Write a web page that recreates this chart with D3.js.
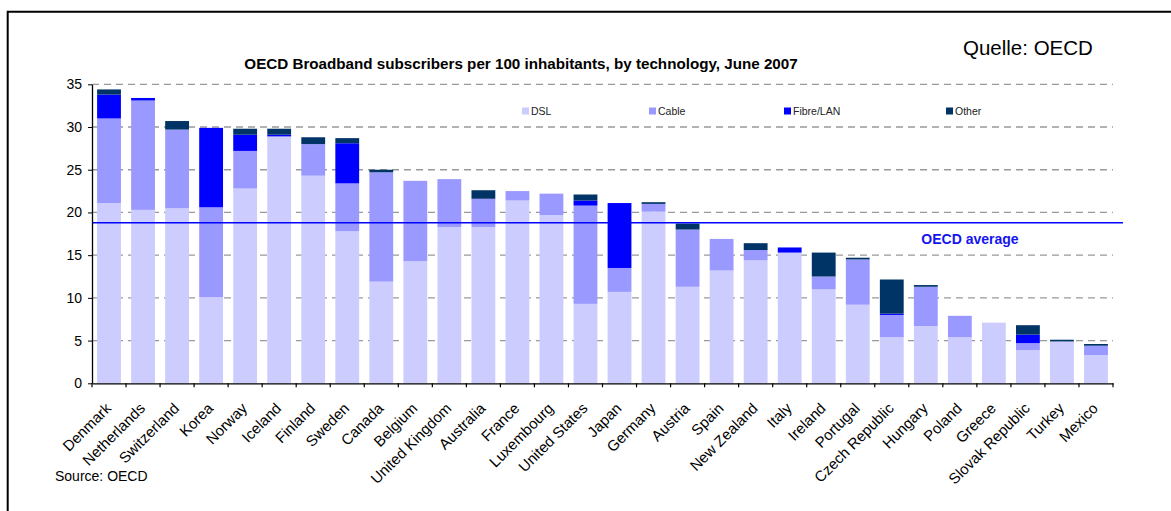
<!DOCTYPE html>
<html><head><meta charset="utf-8">
<script src="https://cdn.jsdelivr.net/npm/d3@7"></script>
<style>
html,body{margin:0;padding:0;background:#fff;}
svg{display:block;font-family:"Liberation Sans",Arial,sans-serif;}
</style></head>
<body>
<svg id="chart" width="1171" height="511"></svg>
<script>
const countries = ["Denmark","Netherlands","Switzerland","Korea","Norway","Iceland","Finland","Sweden","Canada","Belgium","United Kingdom","Australia","France","Luxembourg","United States","Japan","Germany","Austria","Spain","New Zealand","Italy","Ireland","Portugal","Czech Republic","Hungary","Poland","Greece","Slovak Republic","Turkey","Mexico"];
const dsl   = [21.1,20.3,20.5,10.1,22.8,28.9,24.3,17.8,11.9,14.3,18.3,18.3,21.4,19.7,9.3,10.7,20.1,11.3,13.2,14.4,15.3,11.0,9.2,5.4,6.7,5.4,7.1,3.9,4.9,3.3];
const cable = [9.9,12.8,9.2,10.5,4.4,0.0,3.7,5.6,12.8,9.4,5.6,3.3,1.1,2.5,11.5,2.8,0.9,6.7,3.7,1.2,0.0,1.5,5.3,2.6,4.6,2.5,0.0,0.8,0.0,1.1];
const fibre = [2.8,0.3,0.0,9.3,1.9,0.2,0.0,4.7,0.0,0.0,0.0,0.0,0.0,0.0,0.6,7.6,0.0,0.0,0.0,0.0,0.6,0.0,0.0,0.15,0.0,0.0,0.0,1.0,0.0,0.0];
const other = [0.6,0.0,1.0,0.0,0.7,0.7,0.8,0.6,0.3,0.0,0.0,1.0,0.0,0.0,0.7,0.0,0.2,0.7,0.0,0.8,0.0,2.8,0.2,4.0,0.2,0.0,0.0,1.1,0.2,0.2];
const seriesNames = ["DSL","Cable","Fibre/LAN","Other"];
const seriesColors = ["#CCCCFF","#9999FF","#0000FF","#003366"];
const yTicks = [0,5,10,15,20,25,30,35];
const oecdAverage = 18.8;
const titleText = "OECD Broadband subscribers per 100 inhabitants, by technology, June 2007";
const sourceText = "Source: OECD";
const quelleText = "Quelle: OECD";
const avgLabel = "OECD average";

const svg = d3.select("#chart");

// frame
svg.append("path").attr("d","M7.7,520 V11.7 H1180").attr("fill","none").attr("stroke","#000").attr("stroke-width",2);

const x = d3.scaleBand().domain(countries).range([92,1113]).paddingInner(0.3).paddingOuter(0.15);
const y = d3.scaleLinear().domain([0,35]).range([383.3,84.3]);

// gridlines
svg.append("g").selectAll("line").data(yTicks.filter(d=>d>0)).join("line")
  .attr("x1",92).attr("x2",1113).attr("y1",d=>y(d)).attr("y2",d=>y(d))
  .attr("stroke","#999").attr("stroke-width",1.3).attr("stroke-dasharray","7,5");

// stacked bars
const table = countries.map((c,i)=>({country:c,"DSL":dsl[i],"Cable":cable[i],"Fibre/LAN":fibre[i],"Other":other[i]}));
const stack = d3.stack().keys(seriesNames)(table);
svg.append("g").selectAll("g").data(stack).join("g")
  .attr("fill",(d,i)=>seriesColors[i])
  .selectAll("rect").data(d=>d).join("rect")
  .attr("x",d=>x(d.data.country)).attr("width",x.bandwidth())
  .attr("y",d=>y(d[1])).attr("height",d=>Math.max(0,y(d[0])-y(d[1])));

// average line
svg.append("line").attr("x1",92).attr("x2",1123).attr("y1",y(oecdAverage)).attr("y2",y(oecdAverage))
  .attr("stroke","#0000FF").attr("stroke-width",1.5);
svg.append("text").attr("x",970).attr("y",244).attr("text-anchor","middle")
  .attr("font-size",14).attr("font-weight","bold").attr("fill","#1414F0").text(avgLabel);

// y axis
const yAxis = svg.append("g").attr("transform","translate(92,0)")
  .call(d3.axisLeft(y).tickValues(yTicks).tickSize(4).tickPadding(6).tickSizeOuter(0));
yAxis.select(".domain").attr("stroke","#000").attr("stroke-width",1.3);
yAxis.selectAll(".tick line").attr("stroke","#000");
yAxis.selectAll("text").attr("font-size",14).attr("fill","#000").attr("font-family","Liberation Sans, Arial, sans-serif");

// x axis
const xAxis = svg.append("g").attr("transform",`translate(0,${y(0)})`)
  .call(d3.axisBottom(x).tickSize(0).tickSizeOuter(0).tickPadding(0));
xAxis.select(".domain").attr("stroke","#000").attr("stroke-width",1.3);
xAxis.selectAll("text")
  .attr("font-size",15).attr("fill","#000").attr("font-family","Liberation Sans, Arial, sans-serif")
  .attr("text-anchor","end").attr("dy",null).attr("y",null)
  .attr("transform","translate(3,26) rotate(-45)");
// category boundary ticks
const bounds = d3.range(countries.length+1).map(i=>x.range()[0]+i*x.step());
svg.append("g").selectAll("line").data(bounds).join("line")
  .attr("x1",d=>d).attr("x2",d=>d).attr("y1",y(0)).attr("y2",y(0)+4)
  .attr("stroke","#000").attr("stroke-width",1.2);

// title
svg.append("text").attr("x",521).attr("y",69).attr("text-anchor","middle")
  .attr("font-size",15.2).attr("font-weight","bold").attr("fill","#000").text(titleText);
svg.append("text").attr("x",963).attr("y",55).attr("font-size",20.5).attr("fill","#000").text(quelleText);
svg.append("text").attr("x",55).attr("y",481).attr("font-size",14).attr("fill","#000").text(sourceText);

// legend
const legendX = [522,649,784,946];
const lg = svg.append("g").selectAll("g").data(seriesNames).join("g")
  .attr("transform",(d,i)=>`translate(${legendX[i]},107.5)`);
lg.append("rect").attr("width",7).attr("height",7).attr("fill",(d,i)=>seriesColors[i]);
lg.append("text").attr("x",9).attr("y",7).attr("font-size",10.5).attr("fill","#222").text(d=>d);
</script>
</body></html>
